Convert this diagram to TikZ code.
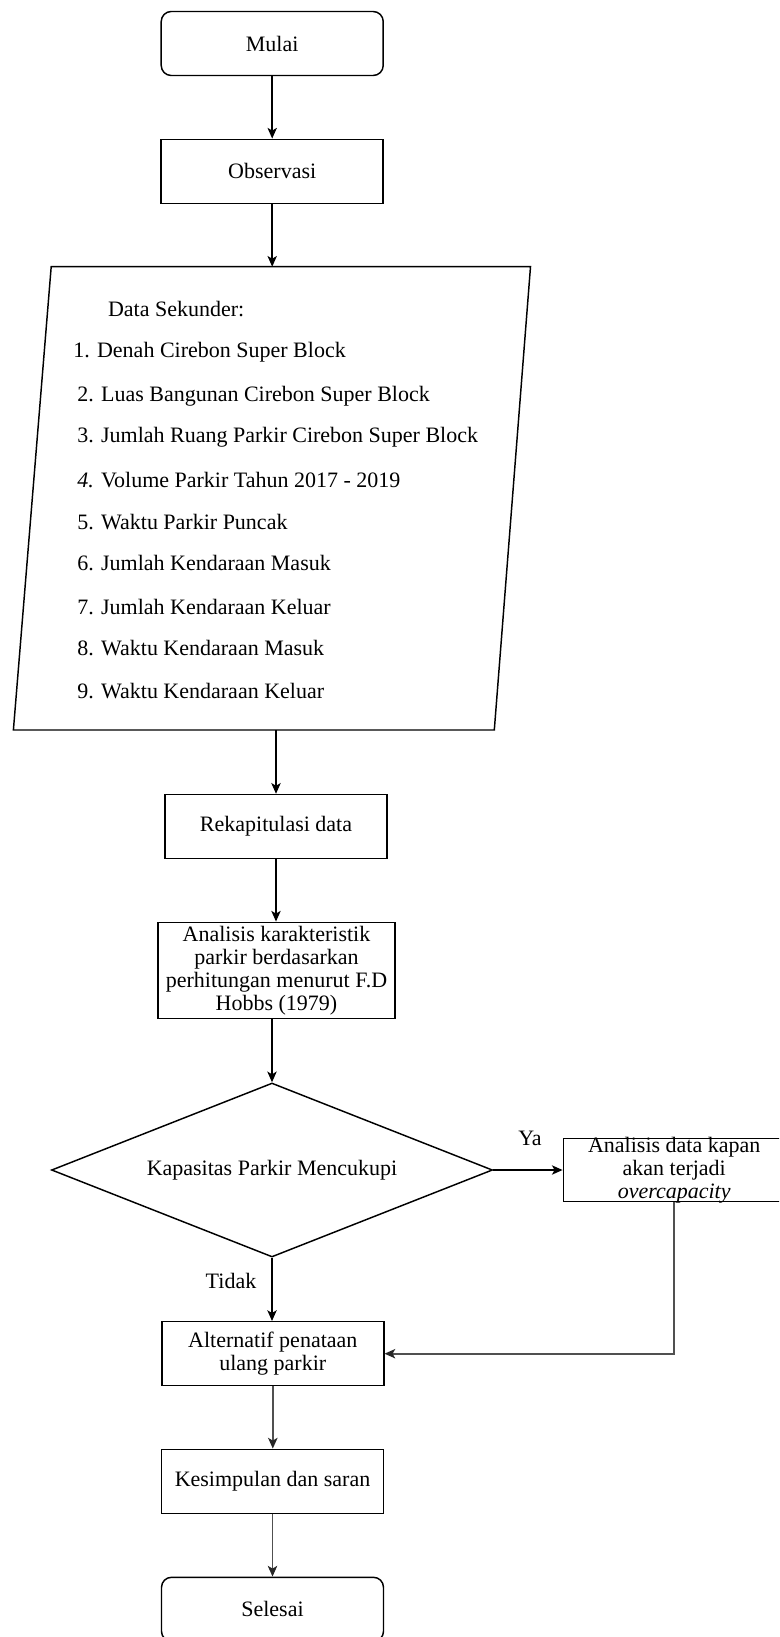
\documentclass[tikz,border=0pt]{standalone}
\usepackage{fontspec}
\setmainfont{Liberation Serif}
\usetikzlibrary{shapes.geometric,arrows.meta}
\definecolor{lgray}{HTML}{505050}
\begin{document}
\begin{tikzpicture}[x=0.75pt,y=-0.75pt,
  every node/.style={font=\fontsize{16.5}{17.3}\selectfont, inner sep=0pt},
  box/.style={draw, line width=1.1pt, minimum width=166.5pt, minimum height=48pt, align=center},
  term/.style={box, rounded corners=7.5pt},
  arr/.style={line width=1.1pt, -{Stealth[length=8pt,width=7pt,inset=2pt]}},
  arrg/.style={line width=1.4pt, draw=lgray, -{Stealth[length=8pt,width=7pt,inset=2pt,color=black!85]}},
  txt/.style={anchor=west}
]
\useasboundingbox (0,0) rectangle (779,1637);
\clip (0,0) rectangle (779,1637);

\node[term] (mulai) at (272.2,43.5) {Mulai};
\node[box] (obs) at (272.2,171.3) {Observasi};

\coordinate (ptop) at (272.2,266.7);
\coordinate (pbot) at (276,730);
\draw[line width=1.1pt] (51.2,266.7) -- (530.5,266.7) -- (494.3,730) -- (13.4,730) -- cycle;

\node[txt] (d0) at (107.8,308.7) {Data Sekunder:};
\node[txt] (d1) at (73,352.7) {1. Denah Cirebon Super Block};
\node[txt] (d2) at (77,396.7) {2. Luas Bangunan Cirebon Super Block};
\node[txt] (d3) at (77,437.3) {3. Jumlah Ruang Parkir Cirebon Super Block};
\node[txt] (d4) at (77,480) {\textit{4.} Volume Parkir Tahun 2017 - 2019};
\node[txt] (d5) at (77,521.7) {5. Waktu Parkir Puncak};
\node[txt] (d6) at (77,563.3) {6. Jumlah Kendaraan Masuk};
\node[txt] (d7) at (77,606.7) {7. Jumlah Kendaraan Keluar};
\node[txt] (d8) at (77,648.3) {8. Waktu Kendaraan Masuk};
\node[txt] (d9) at (77,691) {9. Waktu Kendaraan Keluar};

\node[box] (rekap) at (276,826.5) {Rekapitulasi data};
\node[box, minimum width=177.75pt, minimum height=72pt] (anal) at (276.5,970.3)
  {Analisis karakteristik\\parkir berdasarkan\\perhitungan menurut F.D\\Hobbs (1979)};
\node[draw, diamond, line width=1.1pt, aspect=2.53, minimum width=330.75pt, minimum height=130.5pt] (dia) at (272,1170) {Kapasitas Parkir Mencukupi};
\node[box, minimum width=166.3pt, minimum height=47.6pt,
  label={[align=center]center:{Analisis data kapan\\akan terjadi\\\textit{overcapacity}}}] (rb) at (674.2,1170) {};
\node[box] (alt) at (272.8,1353.7) {Alternatif penataan\\ulang parkir};
\node[box] (kes) at (272.5,1481.3) {Kesimpulan dan saran};
\node[term] (sel) at (272.5,1609.3) {Selesai};

\node (ya) at (530,1138) {Ya};
\node (tidak) at (231,1281) {Tidak};

\draw[arr] (mulai) -- (obs);
\draw[arr] (obs) -- (ptop);
\draw[arr] (pbot) -- (rekap);
\draw[arr] (rekap.south) -- (rekap.south |- anal.north);
\draw[arr] (anal.south -| dia.north) -- (dia.north);
\draw[arr] (dia.east) -- (rb.west);
\draw[arr] (dia.south) -- (dia.south |- alt.north);
\draw[arrg] (rb.south) |- (alt.east);
\draw[arrg] (alt.south) -- (alt.south |- kes.north);
\draw[arrg] (kes.south) -- (kes.south |- sel.north);
\end{tikzpicture}
\end{document}
